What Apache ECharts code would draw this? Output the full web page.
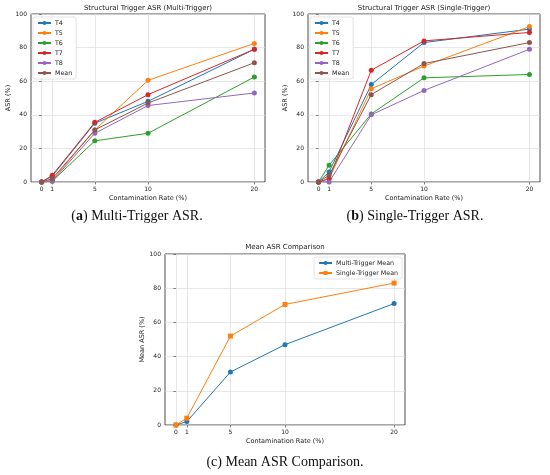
<!DOCTYPE html>
<html>
<head>
<meta charset="utf-8">
<script src="https://cdn.jsdelivr.net/npm/echarts@6/dist/echarts.min.js"></script>
<style>
html, body { margin: 0; padding: 0; background: #fff; }
#chart { width: 550px; height: 475px; }
</style>
</head>
<body>
<div id="chart"></div>
<script>
const rates = [0, 1, 5, 10, 20]
const yTicks = [0, 20, 40, 60, 80, 100]
const seriesNames = ['T4', 'T5', 'T6', 'T7', 'T8', 'Mean']
const colors = ['#1f77b4', '#ff7f0e', '#2ca02c', '#d62728', '#9467bd', '#8c564b']

// multi-trigger ASR per trigger
const multiT4 = [0, 3.5, 35, 48, 79]
const multiT5 = [0, 1, 31, 60.5, 82.5]
const multiT6 = [0, 0.5, 24.5, 29, 62.5]
const multiT7 = [0, 4, 35.5, 52, 79]
const multiT8 = [0, 0.5, 29, 45.5, 53]
const multiMean = [0, 2, 31, 47, 71]

// single-trigger ASR per trigger
const singleT4 = [0, 6, 58, 83, 91]
const singleT5 = [0, 2, 55.5, 69, 92.5]
const singleT6 = [0, 10, 40.5, 62, 64]
const singleT7 = [0, 2, 66.5, 84, 89]
const singleT8 = [0, 0, 40, 54.5, 79]
const singleMean = [0, 4, 52, 70.5, 83]

const multiData = [multiT4, multiT5, multiT6, multiT7, multiT8, multiMean]
const singleData = [singleT4, singleT5, singleT6, singleT7, singleT8, singleMean]

const font = 'DejaVu Sans'
const ink = '#222'

function pairs(vals) {
    return rates.map((r, i) => [r, vals[i]])
}

function xAxis(idx) {
    return {
        type: 'value', gridIndex: idx, min: -1, max: 21,
        name: 'Contamination Rate (%)', nameLocation: 'middle', nameGap: 13,
        nameTextStyle: { fontFamily: font, fontSize: 6.5, color: ink },
        axisLine: { show: false },
        axisTick: { show: true, length: 2.5, customValues: rates, lineStyle: { color: '#333', width: 0.6 } },
        axisLabel: { customValues: rates, fontFamily: font, fontSize: 6, color: ink, margin: 4 },
        splitLine: { show: true, lineStyle: { color: '#dcdcdc', width: 0.7 } }
    }
}

function yAxis(idx, name) {
    return {
        type: 'value', gridIndex: idx, min: yTicks[0], max: yTicks[yTicks.length - 1], interval: 20,
        name: name, nameLocation: 'middle', nameGap: 16,
        nameTextStyle: { fontFamily: font, fontSize: 6.5, color: ink },
        axisLine: { show: false },
        axisTick: { show: true, length: 2.5, lineStyle: { color: '#333', width: 0.6 } },
        axisLabel: { fontFamily: font, fontSize: 6, color: ink, margin: 4 },
        splitLine: { show: true, lineStyle: { color: '#dcdcdc', width: 0.7 } }
    }
}

function lineSeries(name, vals, color, idx, symbol) {
    return {
        type: 'line', name: name, data: pairs(vals),
        xAxisIndex: idx, yAxisIndex: idx,
        symbol: symbol || 'circle', symbolSize: 5, showAllSymbol: true,
        itemStyle: { color: color },
        lineStyle: { color: color, width: 1 },
        animation: false
    }
}

function legend(data, pos) {
    return Object.assign({
        data: data, orient: 'vertical',
        itemWidth: 13, itemHeight: 5, itemGap: 4,
        padding: [3, 4], backgroundColor: '#fff',
        borderColor: '#d0d0d0', borderWidth: 0.6, borderRadius: 2,
        textStyle: { fontFamily: font, fontSize: 6.3, color: ink, padding: [0, 0, 0, -1] },
        selectedMode: false
    }, pos)
}

const grids = [
    { left: 31, top: 14, width: 234, height: 168 },
    { left: 308, top: 14, width: 232, height: 168 },
    { left: 165, top: 254, width: 240, height: 171 }
].map(g => Object.assign(g, { show: true, borderColor: '#222', borderWidth: 0.8, backgroundColor: 'transparent' }))

const series = []
seriesNames.forEach((n, i) => series.push(lineSeries(n, multiData[i], colors[i], 0)))
seriesNames.forEach((n, i) => series.push(lineSeries(n, singleData[i], colors[i], 1)))
series.push(lineSeries('Multi-Trigger Mean', multiMean, colors[0], 2, 'circle'))
series.push(lineSeries('Single-Trigger Mean', singleMean, colors[1], 2, 'rect'))

const titleStyle = { fontFamily: font, fontSize: 7, fontWeight: 'normal', color: ink }
const captionFont = '14px "Liberation Serif"'
const boldRich = { b: { font: 'bold ' + captionFont, fill: '#111' } }

const option = {
    backgroundColor: '#fff',
    animation: false,
    title: [
        { text: 'Structural Trigger ASR (Multi-Trigger)', left: 148, top: 5, textAlign: 'center', textStyle: titleStyle, padding: 0 },
        { text: 'Structural Trigger ASR (Single-Trigger)', left: 424, top: 5, textAlign: 'center', textStyle: titleStyle, padding: 0 },
        { text: 'Mean ASR Comparison', left: 285, top: 244, textAlign: 'center', textStyle: titleStyle, padding: 0 }
    ],
    grid: grids,
    xAxis: [xAxis(0), xAxis(1), xAxis(2)],
    yAxis: [yAxis(0, 'ASR (%)'), yAxis(1, 'ASR (%)'), yAxis(2, 'Mean ASR (%)')],
    legend: [
        legend(seriesNames, { left: 33, top: 17 }),
        legend(seriesNames, { left: 310, top: 17 }),
        legend(['Multi-Trigger Mean', 'Single-Trigger Mean'], { right: 148, top: 257 })
    ],
    series: series,
    graphic: [
        { type: 'text', x: 137, y: 216, style: { text: '({b|a}) Multi-Trigger ASR.', font: captionFont, fill: '#111', align: 'center', verticalAlign: 'middle', rich: boldRich } },
        { type: 'text', x: 415, y: 216, style: { text: '({b|b}) Single-Trigger ASR.', font: captionFont, fill: '#111', align: 'center', verticalAlign: 'middle', rich: boldRich } },
        { type: 'text', x: 285, y: 462, style: { text: '(c) Mean ASR Comparison.', font: captionFont, fill: '#111', align: 'center', verticalAlign: 'middle' } }
    ]
}

const myChart = echarts.init(document.getElementById('chart'))
myChart.setOption(option)
</script>
</body>
</html>
